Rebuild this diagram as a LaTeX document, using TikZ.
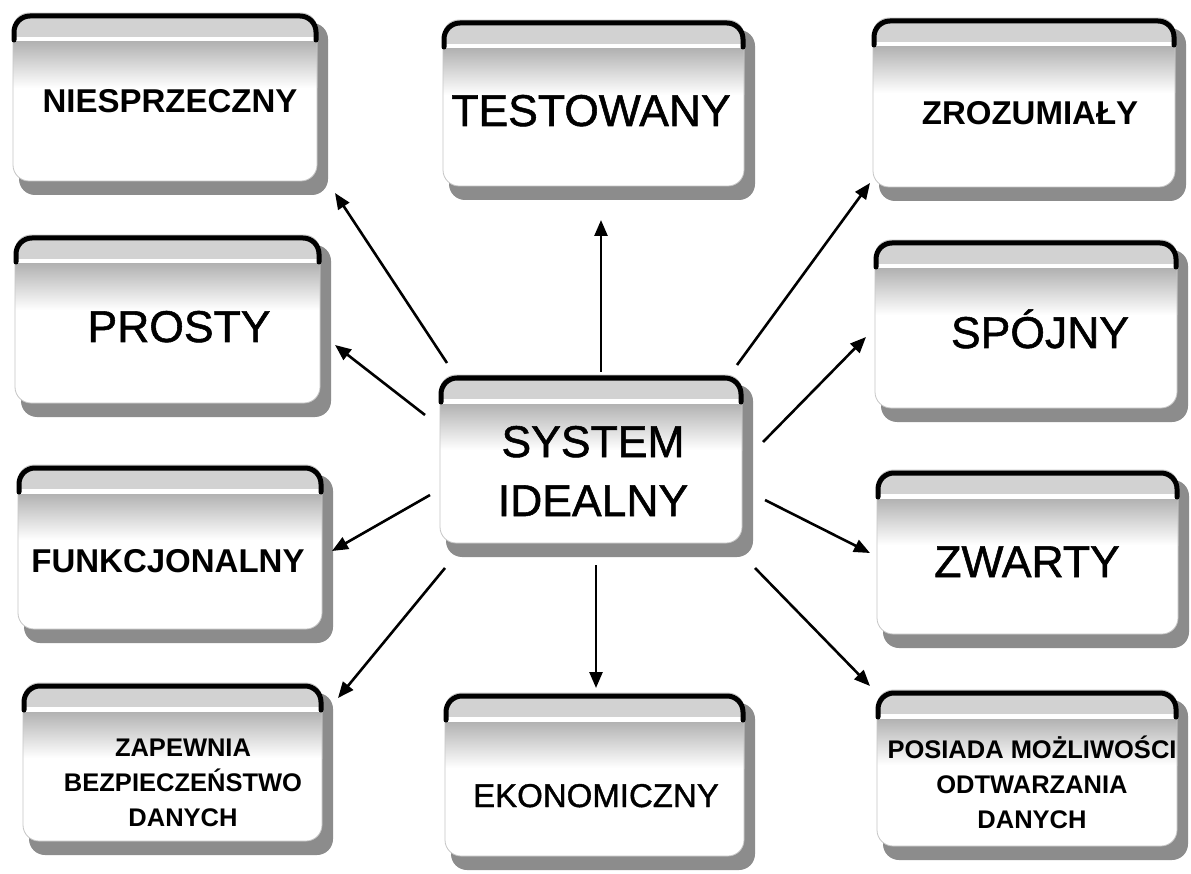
\documentclass[tikz,border=0pt]{standalone}
\usepackage{fontspec}
\setmainfont{Liberation Sans}
\newfontfamily\heavy[FakeBold=1.2]{Liberation Sans}
\usetikzlibrary{arrows.meta}
\tikzset{
  boxshadow/.style={fill=black!45, draw=none, rounded corners=16pt},
  boxedge/.style={draw=gray!45, line width=0.8pt, rounded corners=16pt},
  boxtop/.style={draw=black, line width=5pt, rounded corners=16pt, line cap=round},
  boxnode/.style={rectangle, draw=none, inner sep=0pt},
  big/.style={font=\heavy\fontsize{44.5}{50}\selectfont, anchor=base},
  small/.style={font=\bfseries\fontsize{33}{38}\selectfont, anchor=base},
  mid/.style={font=\heavy\fontsize{33}{38}\selectfont, anchor=base},
  tiny/.style={font=\bfseries\fontsize{25.5}{35}\selectfont, align=center},
  arr/.style={line width=2.6pt, -{Triangle[length=16pt,width=13pt]}},
}
\newcommand{\ramka}[5]{%
  \node[boxnode, minimum width=#4pt, minimum height=#5pt] (#1) at ({#2+#4/2},{#3+#5/2}) {};
  \fill[boxshadow] (#2+6,#3+10) rectangle (#2+#4,#3+#5);
  \begin{scope}
    \path[clip, rounded corners=16pt] (#2,#3) rectangle (#2+#4-11,#3+#5-14);
    \fill[white] (#2,#3) rectangle (#2+#4,#3+#5);
    \fill[gray!35] (#2,#3) rectangle (#2+#4,#3+24);
    \shade[top color=gray!60, bottom color=white] (#2,#3+29) rectangle (#2+#4,#3+75);
  \end{scope}
  \draw[boxedge] (#2,#3) rectangle (#2+#4-11,#3+#5-14);
  \draw[boxtop] (#2+1,#3+27) |- (#2+#4-12,#3+3) -- (#2+#4-12,#3+27);
}
\begin{document}
\begin{tikzpicture}[x=1pt,y=-1pt]
\useasboundingbox[fill=white] (0,0) rectangle (1191,874);

\ramka{b1}{13}{13}{315}{182}
\ramka{b2}{443}{20}{312}{180}
\ramka{b3}{873}{18}{313}{183}
\ramka{b4}{15}{235}{316}{182}
\ramka{b5}{875}{240}{313}{182}
\ramka{b0}{440}{375}{313}{182}
\ramka{b6}{18}{465}{315}{178}
\ramka{b7}{877}{470}{312}{178}
\ramka{b8}{23}{683}{310}{172}
\ramka{b9}{445}{693}{310}{177}
\ramka{b10}{877}{690}{311}{170}

\node[small] (t1) at (170,113) {NIESPRZECZNY};
\node[big] (t2) at (591,126) {TESTOWANY};
\node[small] (t3) at (1030,125) {ZROZUMIAŁY};
\node[big] (t4) at (179,342) {PROSTY};
\node[big] (t5) at (1040,348) {SPÓJNY};
\node[font=\heavy\fontsize{44.5}{59}\selectfont, align=center] (t0) at (593,471) {SYSTEM\\IDEALNY};
\node[small] (t6) at (168,572) {FUNKCJONALNY};
\node[big] (t7) at (1027,577) {ZWARTY};
\node[tiny] (t8) at (183,783) {ZAPEWNIA\\BEZPIECZEŃSTWO\\DANYCH};
\node[mid] (t9) at (596,807) {EKONOMICZNY};
\node[tiny] (t10) at (1032,782) {POSIADA MOŻLIWOŚCI\\ODTWARZANIA\\DANYCH};

\coordinate (s1) at (447,363);  \coordinate (e1) at (335,193);
\coordinate (s2) at (601,372);  \coordinate (e2) at (601,220);
\coordinate (s3) at (737,365);  \coordinate (e3) at (870,183);
\coordinate (s4) at (425,415);  \coordinate (e4) at (335,345);
\coordinate (s5) at (763,442);  \coordinate (e5) at (866,337);
\coordinate (s6) at (430,495);  \coordinate (e6) at (332,551);
\coordinate (s7) at (765,500);  \coordinate (e7) at (870,553);
\coordinate (s8) at (445,568);  \coordinate (e8) at (338,698);
\coordinate (s9) at (596,565);  \coordinate (e9) at (596,688);
\coordinate (s10) at (755,568); \coordinate (e10) at (870,686);
\foreach \i in {1,...,10} {\draw[arr] (s\i) -- (e\i);}
\end{tikzpicture}
\end{document}
